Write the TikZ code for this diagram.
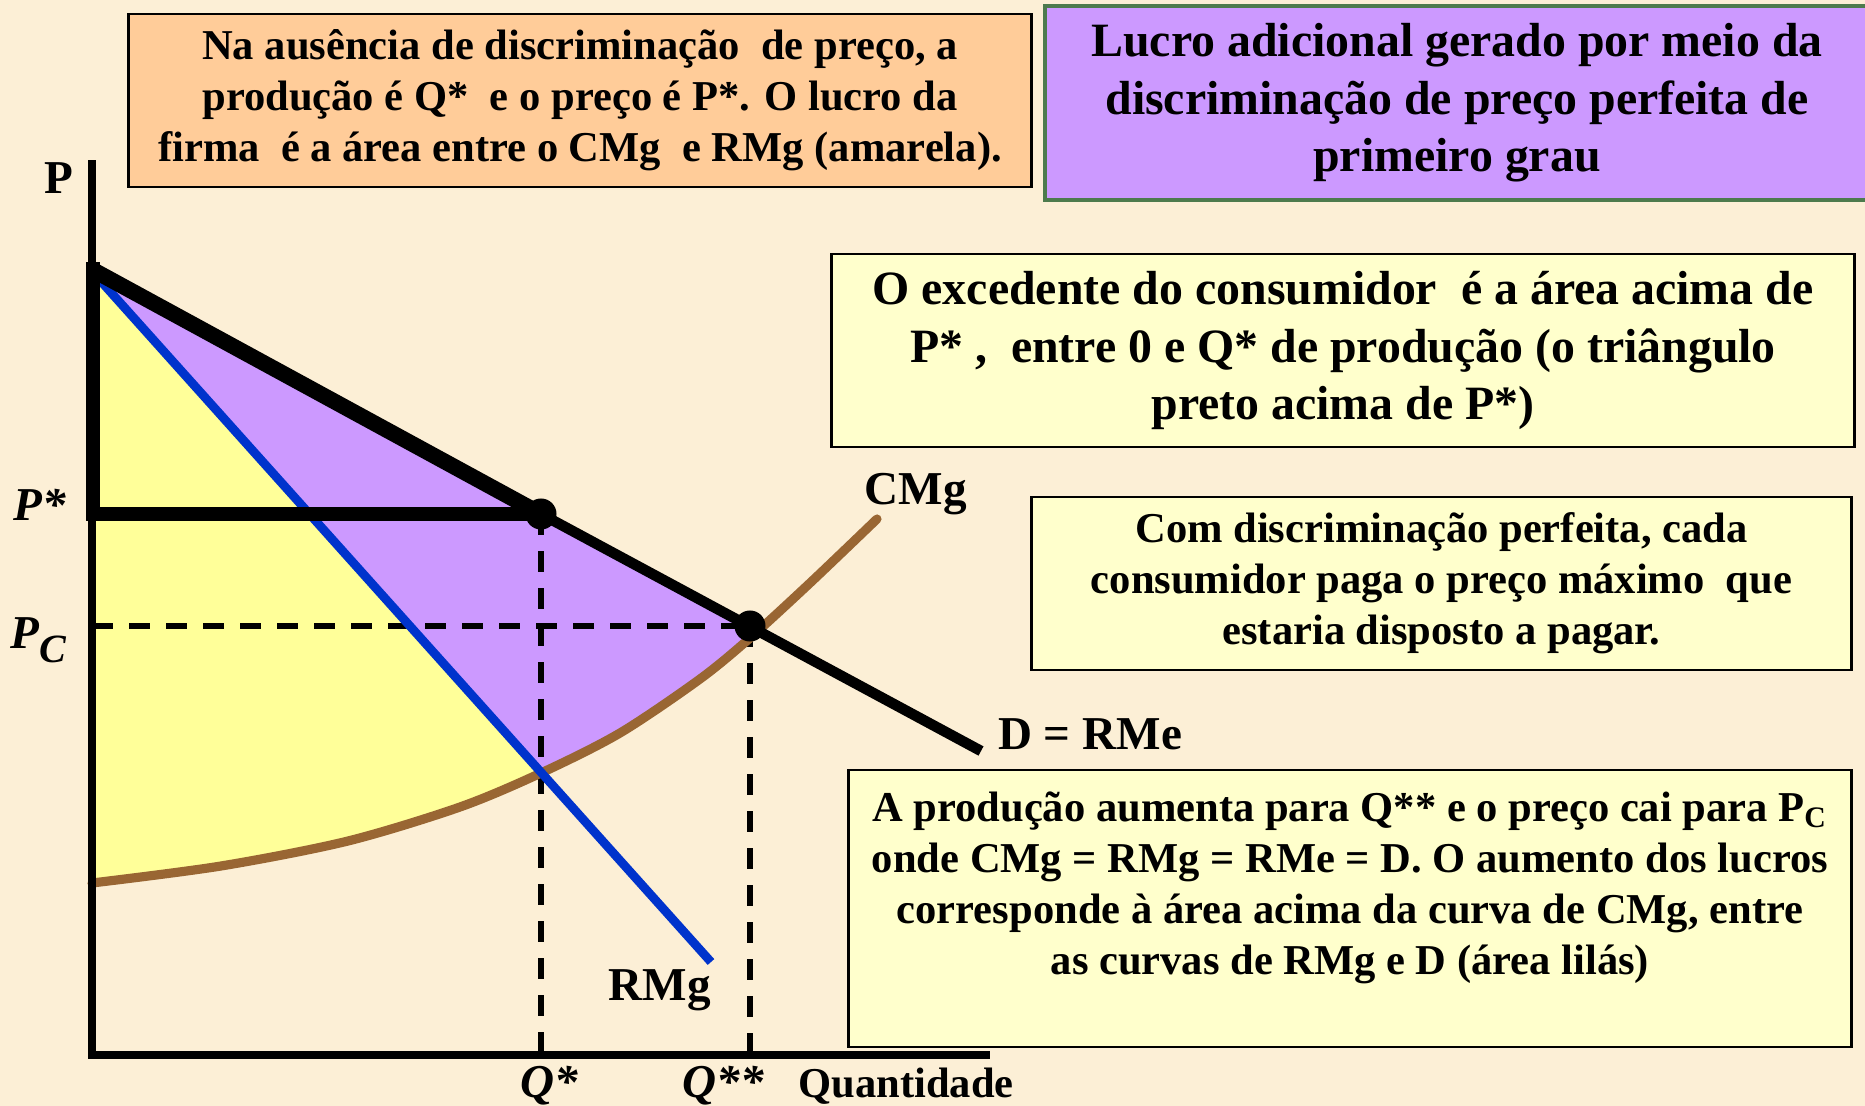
\documentclass[tikz,border=0pt]{standalone}
\usepackage{fontspec}
\setmainfont{Liberation Serif}
\definecolor{fundo}{HTML}{FCEFD6}
\definecolor{lilas}{HTML}{CC99FF}
\definecolor{amarelo}{HTML}{FFFF99}
\definecolor{creme}{HTML}{FFFFCC}
\definecolor{laranja}{HTML}{FFCC99}
\definecolor{verde}{HTML}{4D7A4D}
\definecolor{marrom}{HTML}{996633}
\definecolor{azul}{HTML}{0033CC}
\newcommand{\txtcaixa}{\fontsize{12.1}{14.5}\selectfont\bfseries}
\newcommand{\txtgrande}{\fontsize{13.6}{16.4}\selectfont\bfseries}
\newcommand{\txtrot}{\fontsize{13.4}{16}\selectfont\bfseries}
\begin{document}
\begin{tikzpicture}[x=0.01cm, y=-0.01cm,
    eixo/.style={line width=2pt},
    tracejado/.style={line width=1.6pt, dash pattern=on 0.21cm off 0.16cm},
    caixatxt/.style={draw, line width=0.8pt, align=center, inner sep=0pt, font=\txtcaixa},
    rotulo/.style={anchor=base, inner sep=0pt, font=\txtrot},
    rotuloit/.style={rotulo, font=\txtrot\itshape},
    ponto/.style={circle, fill=black, inner sep=0pt, minimum size=0.31cm}]
    \fill[fundo] (0,0) rectangle (1865,1106);
    \useasboundingbox (0,0) rectangle (1865,1106);

    \coordinate (O) at (92,1055);
    \coordinate (Ptopo) at (92,160);
    \coordinate (Qfim) at (990,1055);
    \coordinate (Dini) at (93,270);
    \coordinate (Dfim) at (981,751);
    \coordinate (Vtopo) at (93,262);
    \coordinate (Pest) at (93,514);
    \coordinate (Eest) at (541,514);
    \coordinate (Pc) at (92,626);
    \coordinate (Ec) at (750,626);
    \coordinate (Rini) at (98,278);
    \coordinate (Rfim) at (711,962);
    \coordinate (Qest) at (541,1055);
    \coordinate (Qdup) at (750,1055);
    % pontos da curva CMg
    \coordinate (c1) at (92,883);
    \coordinate (c2) at (221,866);
    \coordinate (c3) at (348,841);
    \coordinate (c4) at (460,807);
    \coordinate (c5) at (541,773);
    \coordinate (c6) at (620,733);
    \coordinate (c7) at (700,679);
    \coordinate (c8) at (750,638);
    \coordinate (c9) at (810,583);
    \coordinate (c10) at (877,519);

    % areas
    \begin{scope}
        \clip plot[smooth] coordinates {(c1) (c2) (c3) (c4) (c5) (c6) (c7) (c8) (c9) (c10)}
            -- (877,160) -- (92,160) -- cycle;
        \fill[lilas] (Dini) -- (Ec) -- (Qdup) -- (O) -- cycle;
        \fill[amarelo] (Dini) -- (Rini) -- (Rfim) -- (O) -- cycle;
    \end{scope}

    \draw[tracejado] (Pc) -- (Ec);
    \draw[tracejado] (Eest) -- (Qest);
    \draw[tracejado] (Ec) -- (Qdup);

    \draw[marrom, line width=2.6pt, line cap=round]
        plot[smooth] coordinates {(c1) (c2) (c3) (c4) (c5) (c6) (c7) (c8) (c9) (c10)};
    \draw[azul, line width=2.5pt] (Rini) -- (Rfim);

    \draw[eixo] (Ptopo) -- (O) -- (Qfim);
    \draw[line width=4.2pt] (Vtopo) -- (Pest) -- (Eest);
    \draw[line width=4.5pt] (Dini) -- (Eest);
    \draw[line width=3pt] (Eest) -- (Dfim);

    \node[ponto] (pe) at (Eest) {};
    \node[ponto] (pc) at (Ec) {};

    % rotulos
    \node[rotulo] (lP) at (59,193) {P};
    \node[rotuloit] (lPest) at (40,520) {P*};
    \node[rotuloit] (lPc) at (38,648) {P\raisebox{-0.3em}{\fontsize{11.4}{12}\selectfont C}};
    \node[rotuloit] (lQest) at (549,1097) {Q*};
    \node[rotuloit] (lQdup) at (723,1097) {Q**};
    \node[rotulo, font=\txtcaixa] (lQ) at (906,1097) {Quantidade};
    \node[rotulo] (lRMg) at (660,1000) {RMg};
    \node[rotulo] (lCMg) at (916,504) {CMg};
    \node[rotulo] (lD) at (1090,749) {D = RMe};

    % caixas
    \node[caixatxt, fill=laranja, minimum width=9.02cm, minimum height=1.73cm] (semdisc) at (580,100.5)
        {Na ausência de discriminação \ de preço, a\\ produção é Q* \ e o preço é P*. O lucro da\\ firma \ é a área entre o CMg \ e RMg (amarela).};
    \node[caixatxt, draw=verde, line width=1.2pt, fill=lilas, font=\txtgrande, minimum width=8.24cm, minimum height=1.94cm] (titulo) at (1457,103)
        {Lucro adicional gerado por meio da\\ discriminação de preço perfeita de\\ primeiro grau};
    \node[caixatxt, fill=creme, font=\txtgrande, minimum width=10.22cm, minimum height=1.93cm] (excedente) at (1343,350.5)
        {O excedente do consumidor \ é a área acima de\\ P* , \ entre 0 e Q* de produção (o triângulo\\ preto acima de P*)};
    \node[caixatxt, fill=creme, minimum width=8.19cm, minimum height=1.73cm] (perfeita) at (1441.5,583.5)
        {Com discriminação perfeita, cada\\ consumidor paga o preço máximo \ que\\ estaria disposto a pagar.};
    \node[caixatxt, fill=creme, minimum width=10.02cm, minimum height=2.77cm] (aumento) at (1350,908.5)
        {A produção aumenta para Q** e o preço cai para P\textsubscript{C}\\ onde CMg = RMg = RMe = D. O aumento dos lucros\\ corresponde à área acima da curva de CMg, entre\\ as curvas de RMg e D (área lilás)\\ \mbox{}};
\end{tikzpicture}
\end{document}
